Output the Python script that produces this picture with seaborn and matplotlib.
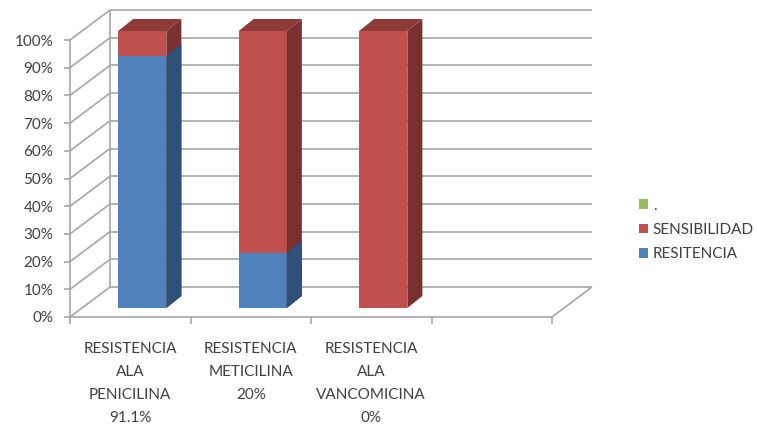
import numpy as np
import pandas as pd
import matplotlib
matplotlib.use("Agg")
import matplotlib.pyplot as plt
from matplotlib import transforms
from matplotlib.patches import Polygon, Patch
from matplotlib.ticker import PercentFormatter
import seaborn as sns

# ---- data ----
categories = ["RESISTENCIA\nALA\nPENICILINA\n91.1%",
              "RESISTENCIA\nMETICILINA\n20%",
              "RESISTENCIA\nALA\nVANCOMICINA\n0%",
              ""]
resistencia = [91.1, 20.0, 0.0, 0.0]
sensibilidad = [8.9, 80.0, 100.0, 0.0]
punto = [0.0, 0.0, 0.0, 0.0]
series_labels = [".", "SENSIBILIDAD", "RESITENCIA"]

# ---- style ----
sns.set_theme(style="white")
plt.rcParams["font.family"] = ["Lato", "DejaVu Sans"]
TEXT = "#404040"
GRID = "#A6A6A6"
BLUE, BLUE_SIDE = "#4F81BD", "#2E5079"
RED, RED_SIDE, RED_TOP = "#C0504D", "#7A302E", "#8E3B38"
GREEN = "#9BBB59"
FS = 11

DPI = 100
fig = plt.figure(figsize=(7.57, 4.26), dpi=DPI)
fig.patch.set_facecolor("white")
ax = fig.add_axes([70 / 757, 109 / 426, 482 / 757, 277 / 426])
ax.set_facecolor("none")

df = pd.DataFrame({
    "categoria": categories,
    "total": np.add(resistencia, sensibilidad),
    "resistencia": resistencia,
    "sensibilidad": sensibilidad,
    "punto": punto,
})

# stacked columns: full height in red, resistance drawn over it in blue
sns.barplot(data=df, x="categoria", y="total", order=categories, color=RED,
            saturation=1, width=0.4, linewidth=0, ax=ax)
n_red = len(ax.patches)
sns.barplot(data=df, x="categoria", y="resistencia", order=categories, color=BLUE,
            saturation=1, width=0.4, linewidth=0, ax=ax)
red_bars = ax.patches[:n_red]
blue_bars = ax.patches[n_red:]

ax.set_xlim(-0.5, len(categories) - 0.5)
ax.set_ylim(0, 100)
fig.canvas.draw()


def shift(px, py):
    """Convert a pixel displacement into data units."""
    o = ax.transData.transform((0, 0))
    return ax.transData.inverted().transform((o[0] + px, o[1] + py))


# depth geometry (in pixels): wall depth, bar front-face offset, bar depth
wdx, wdy = shift(40, 30)
sdx, sdy = shift(15, 12)
bar_trans = transforms.offset_copy(ax.transData, fig=fig, x=12, y=9, units="dots")

x0, x1 = ax.get_xlim()
line_kw = dict(color=GRID, lw=1.2, clip_on=False, zorder=0.5, solid_capstyle="butt")

# back wall gridlines and left wall diagonals
for v in range(0, 101, 10):
    ax.plot([x0 + wdx, x1 + wdx], [v + wdy, v + wdy], **line_kw)
    ax.plot([x0, x0 + wdx], [v, v + wdy], **line_kw)
# left wall back edge and floor right edge
ax.plot([x0 + wdx, x0 + wdx], [wdy, 100 + wdy], **line_kw)
ax.plot([x1, x1 + wdx], [0, wdy], **line_kw)

# move the bars to their depth plane and add side / top faces
for bars, side_col, top in ((red_bars, RED_SIDE, True), (blue_bars, BLUE_SIDE, False)):
    for p in bars:
        p.set_transform(bar_trans)
        p.set_clip_on(False)
        p.set_zorder(2)
        h = p.get_height()
        if h <= 0:
            continue
        xa = p.get_x()
        xb = xa + p.get_width()
        yb, yt = p.get_y(), p.get_y() + h
        ax.add_patch(Polygon([(xb, yb), (xb + sdx, yb + sdy), (xb + sdx, yt + sdy), (xb, yt)],
                             closed=True, facecolor=side_col, lw=0, transform=bar_trans,
                             clip_on=False, zorder=2))
        if top:
            ax.add_patch(Polygon([(xa, yt), (xb, yt), (xb + sdx, yt + sdy), (xa + sdx, yt + sdy)],
                                 closed=True, facecolor=RED_TOP, lw=0, transform=bar_trans,
                                 clip_on=False, zorder=2))

# ---- axes ----
for s in ("top", "right"):
    ax.spines[s].set_visible(False)
for s in ("left", "bottom"):
    ax.spines[s].set_color(GRID)
    ax.spines[s].set_linewidth(1.2)

ax.set_yticks(range(0, 101, 10))
ax.yaxis.set_major_formatter(PercentFormatter(decimals=0))
ax.tick_params(axis="y", direction="out", length=4, width=1.2, color=GRID,
               labelsize=FS, labelcolor=TEXT, pad=8, left=True)

ax.set_xticks(np.arange(x0, x1 + 0.01, 1.0))
ax.set_xticklabels([])
ax.set_xticks(range(len(categories)), minor=True)
ax.set_xticklabels(categories, minor=True)
ax.tick_params(axis="x", which="major", direction="out", length=5, width=1.2,
               color=GRID, bottom=True)
ax.tick_params(axis="x", which="minor", length=0, labelsize=FS, labelcolor=TEXT, pad=18)
for t in ax.get_xticklabels(minor=True):
    t.set_linespacing(1.82)
    t.set_verticalalignment("top")
ax.set_xlabel("")
ax.set_ylabel("")

# ---- legend ----
handles = [Patch(facecolor=c, edgecolor="none") for c in (GREEN, RED, BLUE)]
fig.legend(handles, series_labels, loc="center left",
           bbox_to_anchor=(639 / 757, 1 - 230 / 426), frameon=False,
           fontsize=FS, labelcolor=TEXT, handlelength=0.6, handleheight=0.6,
           handletextpad=0.3, labelspacing=0.68, borderpad=0, borderaxespad=0)

fig.savefig("out.png", dpi=DPI, facecolor="white")
